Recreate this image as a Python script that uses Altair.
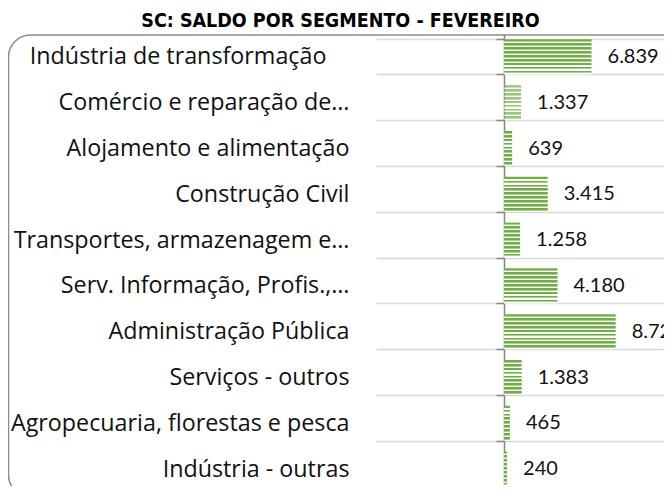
import altair as alt
import pandas as pd

# ---- data ----
categories = [
    "Indústria de transformação",
    "Comércio e reparação de…",
    "Alojamento e alimentação",
    "Construção Civil",
    "Transportes, armazenagem e…",
    "Serv. Informação, Profis.,…",
    "Administração Pública",
    "Serviços - outros",
    "Agropecuaria, florestas e pesca",
    "Indústria - outras",
]
values = [6839, 1337, 639, 3415, 1258, 4180, 8724, 1383, 465, 240]
title_text = "SC: SALDO POR SEGMENTO - FEVEREIRO"

df = pd.DataFrame({"cat": categories, "val": values})

# ---- layout ----
X_MIN, X_MAX = -10000, 12500
W = 288
PAD_LEFT, PAD_TOP = 368, 26
H = 478 - PAD_TOP
ROW_RANGE = 458
zero_px = W * (0 - X_MIN) / (X_MAX - X_MIN)

DARK = "#70ad47"
LIGHT = "#a9d18e"
n = 9
stops = []
for k in range(n):
    a = k / n
    stops += [
        {"offset": a, "color": DARK},
        {"offset": a + 0.45 / n, "color": DARK},
        {"offset": a + 0.45 / n, "color": LIGHT},
        {"offset": a + 0.7 / n, "color": LIGHT},
        {"offset": a + 0.7 / n, "color": "#ffffff"},
        {"offset": (k + 1) / n, "color": "#ffffff"},
    ]
stripe = {"gradient": "linear", "x1": 0, "y1": 0, "x2": 0, "y2": 1, "stops": stops}

yscale = alt.Scale(range=[0, ROW_RANGE], paddingInner=0.234, paddingOuter=0.117)
xscale = alt.Scale(domain=[X_MIN, X_MAX], nice=False, zero=False)

base = alt.Chart(df)

border = base.transform_filter(alt.datum.cat == categories[0]).mark_rect(
    cornerRadius=22, fillOpacity=0, stroke="#8c8c8c", strokeWidth=1.5
).encode(
    x=alt.value(-367.5), x2=alt.value(700), y=alt.value(1), y2=alt.value(463)
)

title = alt.Chart(pd.DataFrame({"t": [title_text]})).mark_text(
    font="Liberation Sans Narrow, Arial Narrow, DejaVu Sans Condensed, sans-serif",
    fontSize=19.5,
    fontWeight="bold",
    color="#000000",
    align="center",
    baseline="alphabetic",
).encode(
    text="t:N",
    x=alt.value(332.5 - PAD_LEFT),
    y=alt.value(19.3 - PAD_TOP),
)

label_pad = alt.condition(
    f"datum.value == '{categories[0]}'", alt.value(50), alt.value(27)
)

bars = base.mark_bar(fill=stripe).encode(
    x=alt.X("val:Q", scale=xscale, axis=None),
    y=alt.Y(
        "cat:N",
        sort=categories,
        scale=yscale,
        axis=alt.Axis(
            orient="left",
            title=None,
            ticks=False,
            tickSize=0,
            domain=False,
            labelPadding=label_pad,
            labelFont="Open Sans",
            labelFontSize=23.3,
            labelColor="#111111",
            labelLimit=0,
            grid=True,
            gridColor="#d9d9d9",
            gridWidth=1.5,
            tickBand="extent",
        ),
    ),
    opacity=alt.condition(alt.datum.cat == categories[1], alt.value(0.7), alt.value(1.0)),
)

labels = base.transform_calculate(
    lbl="replace(format(datum.val, ','), ',', '.')"
).mark_text(
    align="left", baseline="middle", dx=16, font="Lato", fontSize=20, color="#111111"
).encode(
    x=alt.X("val:Q", scale=xscale, axis=None),
    y=alt.Y(
        "cat:N",
        sort=categories,
        scale=yscale,
        axis=alt.Axis(
            orient="left",
            offset=-zero_px,
            title=None,
            labels=False,
            ticks=True,
            tickSize=8,
            tickWidth=1.5,
            tickColor="#868686",
            tickBand="extent",
            domain=True,
            domainColor="#868686",
            domainWidth=1.5,
            grid=False,
        ),
    ),
    text="lbl:N",
)

chart = (
    alt.layer(border, bars, labels, title)
    .resolve_axis(y="independent")
    .properties(
        width=W,
        height=H,
        autosize=alt.AutoSizeParams(type="none"),
        padding={"left": PAD_LEFT, "top": PAD_TOP, "right": 0, "bottom": 0},
    )
    .configure_view(strokeWidth=0)
)

chart.save("out.html", embed_options={"renderer": "svg", "actions": False})
